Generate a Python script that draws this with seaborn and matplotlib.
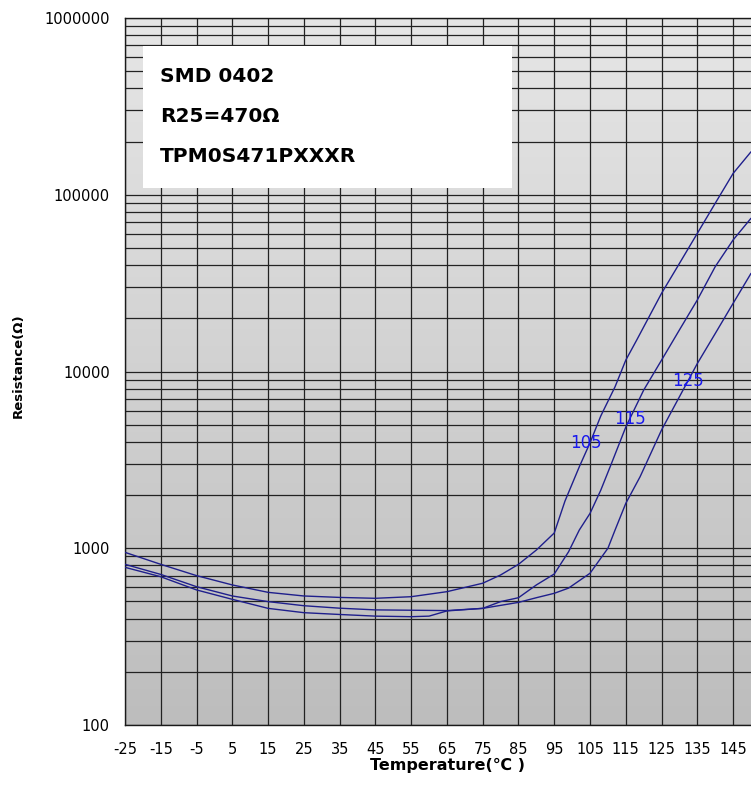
import numpy as np
import pandas as pd
import matplotlib
matplotlib.use("Agg")
import matplotlib.pyplot as plt
from matplotlib.patches import Rectangle
from matplotlib.colors import LinearSegmentedColormap
from matplotlib.ticker import FixedLocator, FuncFormatter, LogLocator, NullFormatter
import seaborn as sns

# curve data (temperature in C, resistance in ohm)
temp_105 = [-25, -15, -5, 5, 15, 25, 35, 45, 55, 65, 75, 80, 85, 90, 95, 98, 102, 105,
            108, 112, 115, 118, 125, 130, 135, 140, 145, 150]
res_105 = [948, 811, 700, 620, 563, 537, 527, 521, 532, 568, 634, 706, 811, 977, 1220,
           1850, 2890, 3950, 5600, 8200, 11600, 15000, 27700, 40900, 60500, 89500,
           132000, 175000]

temp_115 = [-25, -15, -5, 5, 15, 25, 35, 45, 55, 60, 65, 75, 80, 85, 90, 95, 99, 102,
            105, 108, 111, 115, 120, 125, 130, 135, 140, 145, 150]
res_115 = [780, 690, 581, 514, 457, 432, 422, 413, 410, 413, 442, 457, 499, 525, 620,
           715, 955, 1268, 1575, 2130, 3020, 4850, 7850, 11600, 17200, 25400, 39200,
           55500, 73600]

temp_125 = [-25, -15, -5, 5, 15, 25, 35, 45, 55, 65, 75, 85, 90, 95, 99, 105, 110, 112,
            115, 119, 125, 130, 135, 140, 145, 150]
res_125 = [811, 711, 606, 537, 499, 473, 458, 448, 446, 444, 457, 494, 525, 556, 595,
           722, 1000, 1268, 1795, 2540, 4670, 7200, 11100, 16400, 24300, 35900]

curve_names = ["105", "115", "125"]
label_temp = [103.8, 116.1, 132.3]
label_res = [3940, 5380, 8830]

x_ticks = list(range(-25, 150, 10))
y_ticks = [100, 1000, 10000, 100000, 1000000]
info_lines = ["SMD 0402", "R25=470\u03a9", "TPM0S471PXXXR"]

df = pd.concat([
    pd.DataFrame({"Temperature": temp_105, "Resistance": res_105, "curve": "105"}),
    pd.DataFrame({"Temperature": temp_115, "Resistance": res_115, "curve": "115"}),
    pd.DataFrame({"Temperature": temp_125, "Resistance": res_125, "curve": "125"}),
])

sns.set_style("white")
plt.rcParams["font.family"] = ["DejaVu Sans"]
plt.rcParams["axes.unicode_minus"] = False
for key in ["text.color", "axes.labelcolor", "xtick.color", "ytick.color"]:
    plt.rcParams[key] = "black"

fig = plt.figure(figsize=(7.51, 8.02), dpi=100)
ax = fig.add_axes([125 / 751, 77 / 802, 626 / 751, 707 / 802])

line_color = "#1f1f8c"
sns.lineplot(data=df, x="Temperature", y="Resistance", hue="curve", units="curve",
             estimator=None, palette=[line_color] * 3, linewidth=1.0, legend=False,
             ax=ax, zorder=3)

ax.set_yscale("log")

# grey gradient behind the grid (darker at the bottom)
bg_cmap = LinearSegmentedColormap.from_list("bg", ["#bdbdbd", "#e6e6e6"])
grad = np.linspace(0, 1, 256).reshape(-1, 1)
ax.imshow(grad, extent=[0, 1, 0, 1], transform=ax.transAxes, aspect="auto",
          cmap=bg_cmap, origin="lower", zorder=0, interpolation="bilinear")
ax.set_xlim(-25, 150)
ax.set_ylim(100, 1000000)

ax.xaxis.set_major_locator(FixedLocator(x_ticks))
ax.yaxis.set_major_locator(FixedLocator(y_ticks))
ax.yaxis.set_minor_locator(LogLocator(base=10, subs=np.arange(2, 10)))
ax.yaxis.set_minor_formatter(NullFormatter())
ax.yaxis.set_major_formatter(FuncFormatter(lambda v, p: f"{int(round(v))}"))

grid_kw = dict(color="#222222", linewidth=0.9)
ax.grid(True, which="major", axis="both", **grid_kw)
ax.grid(True, which="minor", axis="y", **grid_kw)
ax.tick_params(axis="both", which="both", length=0, labelsize=10.5)
ax.tick_params(axis="x", pad=12)
ax.tick_params(axis="y", pad=11)

for side in ["left", "bottom", "top"]:
    ax.spines[side].set_color("#1a1a1a")
    ax.spines[side].set_linewidth(1.0)
ax.spines["right"].set_visible(False)

# white info box
ax.add_patch(Rectangle((0.0288, 0.7595), 0.589, 0.2005, transform=ax.transAxes,
                       facecolor="white", edgecolor="none", zorder=4))
for txt, yy in zip(info_lines, [0.9166, 0.8600, 0.8034]):
    ax.text(0.0559, yy, txt, transform=ax.transAxes, fontsize=14.5,
            fontweight="bold", va="center", ha="left", zorder=5)

for name, t, r in zip(curve_names, label_temp, label_res):
    ax.text(t, r, name, color="#1a1aee", fontsize=12, ha="center", va="center", zorder=5)

ax.set_xlabel("Temperature(\u2103 )", fontsize=11.5, fontweight="bold")
ax.xaxis.set_label_coords(0.515, -0.057)
ax.xaxis.label.set_va("center")
ax.set_ylabel("Resistance(\u03a9)", fontsize=9.5, fontweight="bold")
ax.yaxis.set_label_coords(-0.171, 0.508)
ax.yaxis.label.set_va("center")

fig.savefig("out.png", dpi=100)
